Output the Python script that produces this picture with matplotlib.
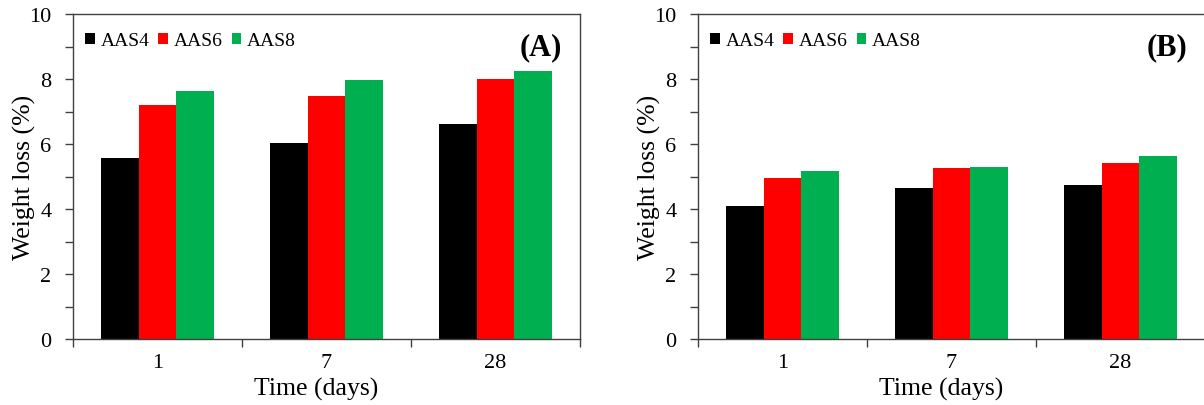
import numpy as np
import matplotlib
matplotlib.use("Agg")
import matplotlib.pyplot as plt
from matplotlib.ticker import MultipleLocator, FixedLocator

plt.rcParams['font.family'] = ['Liberation Serif', 'DejaVu Serif']

# data
days = ['1', '7', '28']
series = ['AAS4', 'AAS6', 'AAS8']
colors = ['#000000', '#FF0000', '#00B050']

loss_a = {
    'AAS4': [5.58, 6.04, 6.62],
    'AAS6': [7.20, 7.49, 7.99],
    'AAS8': [7.63, 7.98, 8.25],
}
loss_b = {
    'AAS4': [4.10, 4.64, 4.73],
    'AAS6': [4.96, 5.26, 5.43],
    'AAS8': [5.16, 5.30, 5.63],
}

W, H = 1204, 406
fig = plt.figure(figsize=(W / 100, H / 100), dpi=100)
ax_a = fig.add_axes([73 / W, 66 / H, 507 / W, 325 / H])
ax_b = fig.add_axes([698 / W, 66 / H, 507 / W, 325 / H])

spine_col = '#404040'
bw = 1 / 4.5  # excel style: 150% gap width


def draw_panel(ax, data, tag):
    x = np.arange(len(days))
    for i, (name, col) in enumerate(zip(series, colors)):
        ax.bar(x + (i - 1) * bw, data[name], width=bw, color=col, label=name,
               edgecolor='none')
    ax.set_xlim(-0.5, len(days) - 0.5)
    ax.set_ylim(0, 10)
    ax.set_xticks(x)
    ax.set_xticklabels(days)
    ax.xaxis.set_minor_locator(FixedLocator(np.arange(-0.5, len(days), 1.0)))
    ax.yaxis.set_major_locator(MultipleLocator(2))
    ax.yaxis.set_minor_locator(MultipleLocator(1))
    ax.tick_params(axis='x', which='major', length=0, pad=10, labelsize=16)
    ax.tick_params(axis='x', which='minor', length=6, width=1, direction='out',
                   color=spine_col)
    ax.tick_params(axis='y', which='major', length=6, width=1, direction='out',
                   pad=9.5, labelsize=16, color=spine_col)
    ax.tick_params(axis='y', which='minor', length=6, width=1, direction='out',
                   color=spine_col)
    for s in ax.spines.values():
        s.set_color(spine_col)
        s.set_linewidth(1)
    ax.set_xlabel('Time (days)', fontsize=18.5, labelpad=0)
    ax.xaxis.set_label_coords(0.48, -0.118, transform=ax.transAxes)
    ax.xaxis.label.set_va('top')
    ax.set_ylabel('Weight loss (%)', fontsize=18.5, labelpad=0)
    ax.yaxis.set_label_coords(-0.096, 0.5, transform=ax.transAxes)
    ax.yaxis.label.set_va('center')
    ax.legend(loc='center left', bbox_to_anchor=(12 / 507, 1 - 27 / 325),
              ncol=3, frameon=False, fontsize=14,
              handlelength=0.49, handleheight=0.49, handletextpad=0.31,
              columnspacing=0.46, borderaxespad=0, borderpad=0)
    ax.text(0.965, 0.9, tag, transform=ax.transAxes, ha='right', va='center',
            fontsize=22, fontweight='bold')


draw_panel(ax_a, loss_a, '(A)')
draw_panel(ax_b, loss_b, '(B)')

fig.savefig('out.png', dpi=100)
